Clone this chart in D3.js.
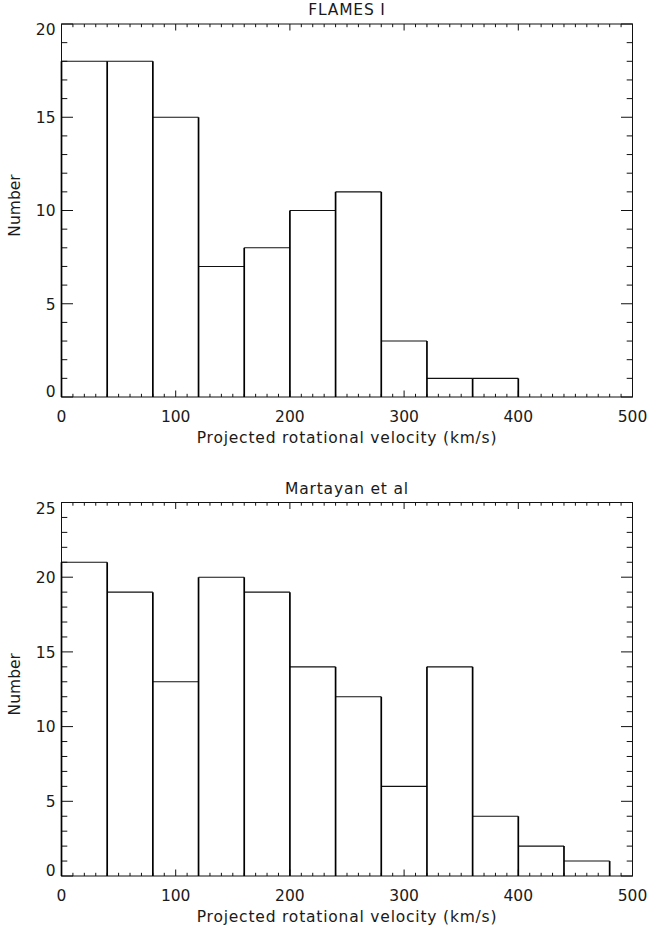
<!DOCTYPE html>
<html>
<head>
<meta charset="utf-8">
<script src="https://cdn.jsdelivr.net/npm/d3@7"></script>
<style>
  body { margin: 0; background: #fff; }
  text { font-family: "DejaVu Sans", sans-serif; fill: #1a1a1a; }
</style>
</head>
<body>
<svg id="mainSVG" width="648" height="929"></svg>
<script>
// histogram bins (km/s), width 40
const binEdges = [0, 40, 80, 120, 160, 200, 240, 280, 320, 360, 400, 440, 480, 500];
const flamesCounts = [18, 18, 15, 7, 8, 10, 11, 3, 1, 1, 0, 0, 0];
const martayanCounts = [21, 19, 13, 20, 19, 14, 12, 6, 14, 4, 2, 1, 0];
const xTicks = [0, 100, 200, 300, 400, 500];
const flamesYTicks = [0, 5, 10, 15, 20];
const martayanYTicks = [0, 5, 10, 15, 20, 25];

const svg = d3.select("#mainSVG")

function panel(top, bottom, title, counts, yTicks) {
    const left = 61.5, right = 632.5
    const yMax = yTicks[yTicks.length - 1]
    const x = d3.scaleLinear().domain([0, 500]).range([left, right])
    const y = d3.scaleLinear().domain([0, yMax]).range([bottom, top])
    const g = svg.append("g")

    // frame
    g.append("rect")
        .attr("x", left).attr("y", top)
        .attr("width", right - left).attr("height", bottom - top)
        .attr("fill", "none").attr("stroke", "#111").attr("stroke-width", 1)

    // x ticks top + bottom, minor every 10
    d3.range(0, 501, 10).forEach(v => {
        const len = v % 100 === 0 ? 6.5 : 3.2
        g.append("line").attr("x1", x(v)).attr("x2", x(v))
            .attr("y1", bottom).attr("y2", bottom - len)
            .attr("stroke", "#111")
        g.append("line").attr("x1", x(v)).attr("x2", x(v))
            .attr("y1", top).attr("y2", top + len)
            .attr("stroke", "#111")
    })
    // y ticks left + right, minor every 1
    d3.range(0, yMax + 1, 1).forEach(v => {
        const len = v % 5 === 0 ? 11.5 : 5.8
        g.append("line").attr("x1", left).attr("x2", left + len)
            .attr("y1", y(v)).attr("y2", y(v)).attr("stroke", "#111")
        g.append("line").attr("x1", right).attr("x2", right - len)
            .attr("y1", y(v)).attr("y2", y(v)).attr("stroke", "#111")
    })

    // tick labels
    g.selectAll(".xl").data(xTicks).enter().append("text")
        .attr("x", d => x(d)).attr("y", bottom + 25)
        .attr("text-anchor", "middle").attr("font-size", 15.5)
        .text(d => d)
    g.selectAll(".yl").data(yTicks).enter().append("text")
        .attr("x", left - 6)
        .attr("y", d => Math.min(Math.max(y(d), top + 5.5), bottom - 6) + 5.8)
        .attr("text-anchor", "end").attr("font-size", 15.5)
        .text(d => d)

    // titles
    g.append("text").attr("x", (left + right) / 2).attr("y", top - 9)
        .attr("text-anchor", "middle").attr("font-size", 15.5)
        .attr("letter-spacing", 0.8).text(title)
    g.append("text").attr("x", (left + right) / 2).attr("y", bottom + 46)
        .attr("text-anchor", "middle").attr("font-size", 15.5)
        .attr("letter-spacing", 0.8)
        .text("Projected rotational velocity (km/s)")
    g.append("text")
        .attr("transform", `translate(20,${(top + bottom) / 2 - 5}) rotate(-90)`)
        .attr("text-anchor", "middle").attr("font-size", 15.5).text("Number")

    // histogram tops
    counts.forEach((c, i) => {
        if (c === 0) return
        g.append("line")
            .attr("x1", x(binEdges[i])).attr("x2", x(binEdges[i + 1]))
            .attr("y1", y(c)).attr("y2", y(c))
            .attr("stroke", "#111").attr("stroke-width", 1.1)
    })
    // histogram verticals
    binEdges.forEach((e, i) => {
        const l = i > 0 ? counts[i - 1] : 0
        const r = i < counts.length ? counts[i] : 0
        const h = Math.max(l, r)
        if (h === 0) return
        g.append("line")
            .attr("x1", x(e)).attr("x2", x(e))
            .attr("y1", y(0)).attr("y2", y(h))
            .attr("stroke", "#000").attr("stroke-width", 1.7)
    })
}

panel(24, 397, "FLAMES I", flamesCounts, flamesYTicks)
panel(502.5, 876, "Martayan et al", martayanCounts, martayanYTicks)
</script>
</body>
</html>
